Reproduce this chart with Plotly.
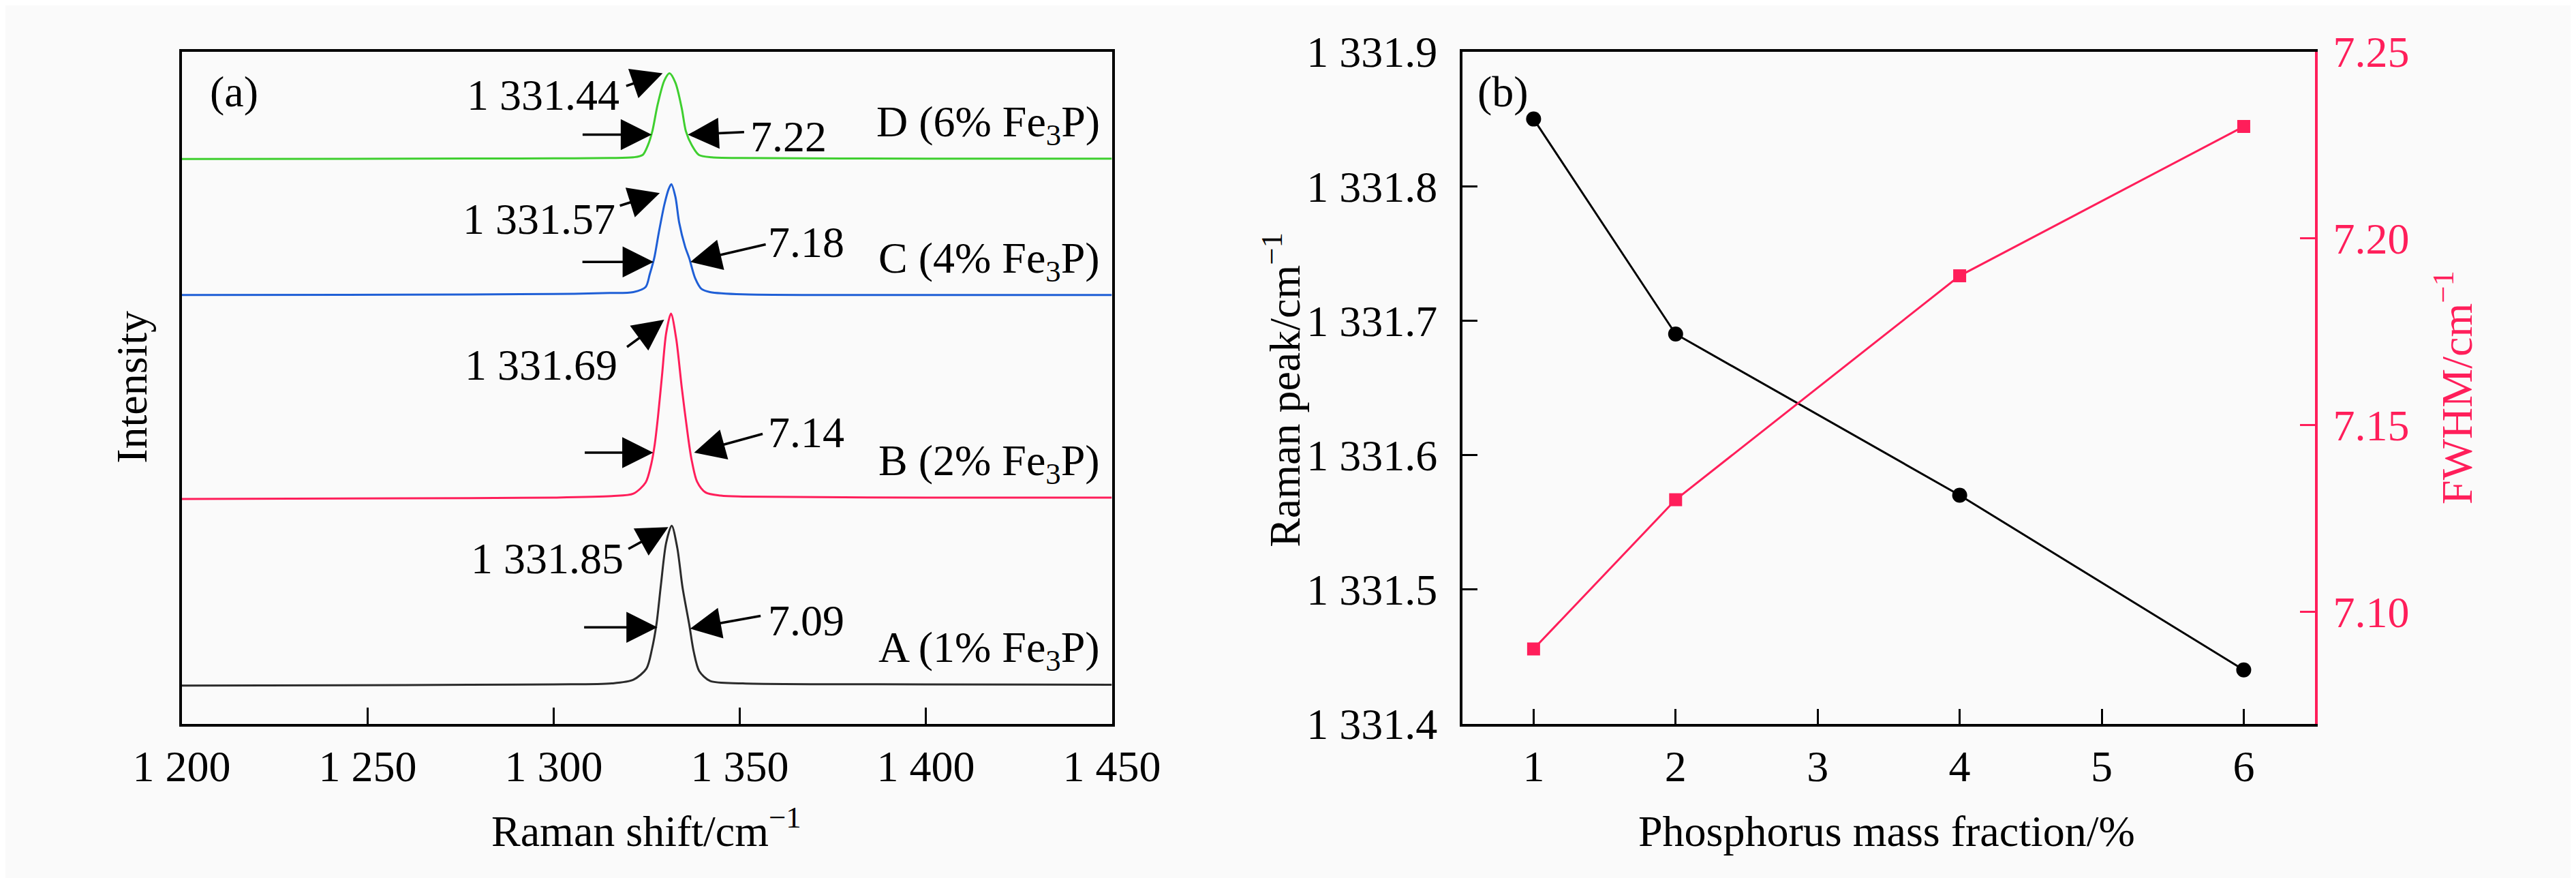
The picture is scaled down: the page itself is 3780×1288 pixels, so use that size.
import plotly.graph_objects as go

# ---------------- data: panel (a) Raman spectra ----------------
x_ticks_a = [1200, 1250, 1300, 1350, 1400, 1450]
x_ticktext_a = ["1 200", "1 250", "1 300", "1 350", "1 400", "1 450"]

A_x = [1200, 1260, 1300, 1315.6, 1321.4, 1324.9, 1326.4, 1327.6, 1328.8, 1330.2, 1331.7,
       1333.2, 1334.6, 1336.4, 1337.6, 1339.1, 1342.0, 1350.8, 1400, 1450]
A_y = [5.66, 5.75, 5.85, 5.99, 6.54, 8.19, 11.12, 14.79, 20.66, 26.9, 29.47,
       26.17, 20.3, 14.79, 10.76, 7.82, 6.36, 5.99, 5.85, 5.8]

B_x = [1200, 1260, 1300, 1315.6, 1321.4, 1324.7, 1326.2, 1327.1, 1328.0, 1329.1, 1330.2,
       1331.5, 1332.9, 1334.4, 1336.1, 1337.0, 1338.5, 1340.8, 1344.9, 1350.8, 1400, 1450]
B_y = [33.45, 33.55, 33.65, 33.87, 34.24, 35.9, 38.64, 41.42, 45.64, 51.87, 58.1,
       61.03, 57.33, 50.05, 42.66, 39.41, 36.05, 34.42, 33.94, 33.80, 33.65, 33.65]

C_x = [1200, 1260, 1300, 1315, 1321.4, 1324.7, 1325.8, 1327.0, 1328.2, 1329.7, 1330.9,
       1331.6, 1332.7, 1333.7, 1335.3, 1336.4, 1338.0, 1339.7, 1342.0, 1350.8, 1400, 1450]
C_y = [63.8, 63.85, 63.95, 64.1, 64.24, 65.0, 66.9, 69.3, 73.0, 77.2, 79.6,
       80.3, 78.4, 74.6, 71.0, 69.3, 66.3, 64.7, 64.24, 63.9, 63.8, 63.8]

D_x = [1200, 1260, 1300, 1315, 1321.4, 1323.9, 1325.3, 1326.5, 1327.9, 1329.7, 1331.1,
       1332.7, 1334.4, 1335.5, 1337.1, 1339.0, 1342.5, 1350, 1400, 1450]
D_y = [84.05, 84.1, 84.15, 84.2, 84.3, 84.66, 86.1, 88.2, 92.1, 95.7, 96.8,
       95.4, 91.6, 88.2, 86.1, 84.66, 84.3, 84.2, 84.1, 84.1]

sample_names = ["A (1% Fe<sub>3</sub>P)", "B (2% Fe<sub>3</sub>P)",
                "C (4% Fe<sub>3</sub>P)", "D (6% Fe<sub>3</sub>P)"]
peak_labels = ["1 331.85", "1 331.69", "1 331.57", "1 331.44"]
fwhm_labels = ["7.09", "7.14", "7.18", "7.22"]

# ---------------- data: panel (b) ----------------
mass_fraction = [1, 2, 4, 6]
raman_peak = [1331.85, 1331.69, 1331.57, 1331.44]
fwhm = [7.09, 7.13, 7.19, 7.23]

x_ticks_b = [1, 2, 3, 4, 5, 6]
y_ticks_b = [1331.4, 1331.5, 1331.6, 1331.7, 1331.8, 1331.9]
y_ticktext_b = ["1 331.4", "1 331.5", "1 331.6", "1 331.7", "1 331.8", "1 331.9"]
y2_ticks_b = [7.10, 7.15, 7.20, 7.25]
y2_ticktext_b = ["7.10", "7.15", "7.20", "7.25"]

# ---------------- styles ----------------
FONT = "Liberation Serif, Times New Roman, serif"
FS = 64
PINK = "#ff1e5a"
BG = "#fafafa"
spec_colors = ["#2b2b2b", "#ff1e5a", "#1f5fd6", "#3fcf2f"]

# per-sample layout offsets in pixels (dx right, dy down) relative to the peak top
peak_tip = [(-5, 2), (-10, 9), (-17, 13), (-10, 0)]
peak_tail = [(-60, 33), (-56, 41), (-60, 19), (-55, 19)]
peak_text = [(-69, 48), (-77, 75), (-80, 51), (-71, 32)]
lw_tip = [(-21, 149), (-26, 204), (-26, 114), (-26, 90)]
lw_tail = [(-109, 0), (-102, 0), (-106, 0), (-103, 0)]
rw_tip = [(27, 151), (34, 204), (28, 114), (27, 90)]
rw_tail = [(105, -19), (102, -28), (112, -26), (84, -4)]
w_text = [(139, 139), (140, 174), (140, 85), (117, 93)]

fig = go.Figure()

spectra = [(A_x, A_y), (B_x, B_y), (C_x, C_y), (D_x, D_y)]
for (sx, sy), col in zip(spectra, spec_colors):
    fig.add_trace(go.Scatter(x=sx, y=sy, mode="lines", xaxis="x", yaxis="y",
                             line=dict(color=col, width=3, shape="spline", smoothing=0.8),
                             showlegend=False, hoverinfo="skip"))

fig.add_trace(go.Scatter(x=mass_fraction, y=raman_peak, mode="lines+markers",
                         xaxis="x2", yaxis="y2",
                         line=dict(color="black", width=3),
                         marker=dict(symbol="circle", size=22, color="black"),
                         showlegend=False))
fig.add_trace(go.Scatter(x=mass_fraction, y=fwhm, mode="lines+markers",
                         xaxis="x2", yaxis="y3",
                         line=dict(color=PINK, width=3),
                         marker=dict(symbol="square", size=19, color=PINK),
                         showlegend=False))

ann = []


def arrow(x, y, tip, tail):
    return dict(xref="x", yref="y", x=x, y=y, xshift=tip[0], yshift=-tip[1],
                ax=tail[0], ay=tail[1], axref="pixel", ayref="pixel", text="",
                showarrow=True, arrowhead=2, arrowsize=2.6, arrowwidth=3.5,
                arrowcolor="black", standoff=0, startstandoff=0)


for i, (sx, sy) in enumerate(spectra):
    k = sy.index(max(sy))
    px, py = sx[k], sy[k]
    ann.append(arrow(px, py, peak_tip[i], peak_tail[i]))
    ann.append(arrow(px, py, lw_tip[i], lw_tail[i]))
    ann.append(arrow(px, py, rw_tip[i], rw_tail[i]))
    ann.append(dict(xref="x", yref="y", x=px, y=py, xshift=peak_text[i][0],
                    yshift=-peak_text[i][1], text=peak_labels[i], showarrow=False,
                    xanchor="right", yanchor="middle",
                    font=dict(family=FONT, size=FS, color="black")))
    ann.append(dict(xref="x", yref="y", x=px, y=py, xshift=w_text[i][0],
                    yshift=-w_text[i][1], text=fwhm_labels[i], showarrow=False,
                    xanchor="left", yanchor="middle",
                    font=dict(family=FONT, size=FS, color="black")))
    ann.append(dict(xref="x", yref="y", x=sx[-1], y=sy[-1], xshift=-16, yshift=50,
                    text=sample_names[i], showarrow=False, xanchor="right",
                    yanchor="middle", font=dict(family=FONT, size=FS, color="black")))

W, H = 3780, 1288
# panel labels and axis titles (paper coordinates)
ann += [
    dict(xref="paper", yref="paper", x=235 / W, y=1 - 97 / H, text="(a)", showarrow=False,
         xanchor="left", yanchor="middle", font=dict(family=FONT, size=FS, color="black")),
    dict(xref="paper", yref="paper", x=2169 / W, y=1 - 97 / H, text="(b)", showarrow=False,
         xanchor="left", yanchor="middle", font=dict(family=FONT, size=FS, color="black")),
    dict(xref="paper", yref="paper", x=118 / W, y=1 - 556 / H, text="Intensity",
         showarrow=False, textangle=-90, xanchor="center", yanchor="middle",
         font=dict(family=FONT, size=FS, color="black")),
    dict(xref="paper", yref="paper", x=903 / W, y=1 - 1240 / H,
         text="Raman shift/cm<sup>−1</sup>", showarrow=False, xanchor="center",
         yanchor="middle", font=dict(family=FONT, size=FS, color="black")),
    dict(xref="paper", yref="paper", x=2795 / W, y=1 - 1245 / H,
         text="Phosphorus mass fraction/%", showarrow=False, xanchor="center",
         yanchor="middle", font=dict(family=FONT, size=FS, color="black")),
    dict(xref="paper", yref="paper", x=1872 / W, y=1 - 560 / H,
         text="Raman peak/cm<sup>−1</sup>", showarrow=False, textangle=-90,
         xanchor="center", yanchor="middle", font=dict(family=FONT, size=FS, color="black")),
    dict(xref="paper", yref="paper", x=3660 / W, y=1 - 556 / H,
         text="FWHM/cm<sup>−1</sup>", showarrow=False, textangle=-90,
         xanchor="center", yanchor="middle", font=dict(family=FONT, size=FS, color=PINK)),
]

ydom = [1 - 1078 / H, 1 - 35 / H]
tickfont = dict(family=FONT, size=FS, color="black")

fig.update_layout(
    width=W, height=H,
    margin=dict(l=0, r=0, t=0, b=0),
    paper_bgcolor=BG, plot_bgcolor=BG,
    showlegend=False,
    annotations=ann,
    xaxis=dict(domain=[194 / W, 1613 / W], range=[1200, 1450], tickvals=x_ticks_a,
               ticktext=x_ticktext_a, ticks="inside", ticklen=24, tickwidth=3,
               tickcolor="black", showline=True, linewidth=4, linecolor="black",
               mirror=True, showgrid=False, zeroline=False, tickfont=tickfont,
               ticklabelstandoff=4, anchor="y"),
    yaxis=dict(domain=ydom, range=[0, 100], showticklabels=False, ticks="",
               showline=True, linewidth=4, linecolor="black", mirror=True,
               showgrid=False, zeroline=False, anchor="x"),
    xaxis2=dict(domain=[2148 / W, 3448 / W], range=[0.5, 6.5], tickvals=x_ticks_b,
                ticks="inside", ticklen=22, tickwidth=3, tickcolor="black",
                showline=True, linewidth=4, linecolor="black", mirror=True,
                showgrid=False, zeroline=False, tickfont=tickfont,
                ticklabelstandoff=4, anchor="y2"),
    yaxis2=dict(domain=ydom, range=[1331.4, 1331.9], tickvals=y_ticks_b,
                ticktext=y_ticktext_b, ticks="inside", ticklen=22, tickwidth=3,
                tickcolor="black", showline=True, linewidth=4, linecolor="black",
                showgrid=False, zeroline=False, tickfont=tickfont,
                ticklabelstandoff=20, anchor="x2"),
    yaxis3=dict(domain=ydom, range=[7.07, 7.25], tickvals=y2_ticks_b,
                ticktext=y2_ticktext_b, overlaying="y2", side="right",
                ticks="inside", ticklen=22, tickwidth=3, tickcolor=PINK,
                showline=True, linewidth=4, linecolor=PINK, showgrid=False,
                zeroline=False, tickfont=dict(family=FONT, size=FS, color=PINK),
                ticklabelstandoff=10, anchor="x2"),
)

fig.write_html("out.html")
